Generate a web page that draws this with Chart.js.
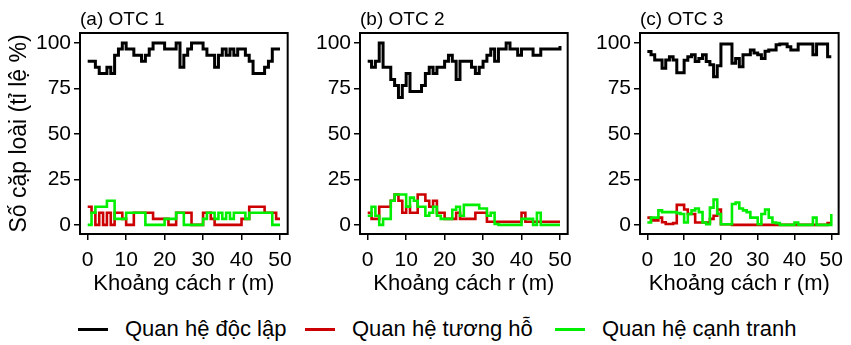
<!DOCTYPE html>
<html>
<head>
<meta charset="utf-8">
<script src="https://cdn.jsdelivr.net/npm/chart.js@4.4.1/dist/chart.umd.min.js"></script>
<style>
  body { margin: 0; background: #fff; width: 851px; height: 345px; position: relative; overflow: hidden;
         font-family: "Liberation Sans", Arial, sans-serif; }
  canvas { position: absolute; top: 0; }
  .item { position: absolute; top: 315px; height: 28px; display: flex; align-items: center; font-size: 22px; color: #000; white-space: nowrap; }
  .swatch { width: 30px; height: 3px; margin-right: 17px; }
</style>
</head>
<body>
<canvas id="otc1" width="300" height="300" style="left:0px"></canvas>
<canvas id="otc2" width="280" height="300" style="left:300px"></canvas>
<canvas id="otc3" width="271" height="300" style="left:580px"></canvas>
<div id="legend"></div>
<script>
document.addEventListener('DOMContentLoaded', function () {
// distance r (m)
const distances = [0,1,2,3,4,5,6,7,8,9,10,11,12,13,14,15,16,17,18,19,20,21,22,23,24,25,26,27,28,29,30,31,32,33,34,35,36,37,38,39,40,41,42,43,44,45,46,47,48,49,50];

// OTC 1
const otc1Independent = [90,90,86.7,83.3,83.3,86.7,83.3,93.3,96.7,100,96.7,96.7,93.3,93.3,90,93.3,96.7,100,100,100,96.7,96.7,96.7,100,86.7,93.3,96.7,100,100,100,96.7,93.3,93.3,86.7,93.3,96.7,93.3,96.7,93.3,96.7,96.7,93.3,90,83.3,83.3,83.3,86.7,90,96.7,96.7,96.7];
const otc1Mutual = [10,6.7,0,6.7,0,6.7,0,6.7,6.7,3.3,0,0,6.7,6.7,6.7,6.7,6.7,3.3,3.3,3.3,3.3,0,0,6.7,6.7,6.7,6.7,0,0,0,6.7,6.7,3.3,0,0,0,0,0,0,0,3.3,3.3,10,10,10,10,6.7,6.7,6.7,3.3,3.3];
const otc1Competitive = [0,6.7,10,10,10,13.3,13.3,3.3,3.3,3.3,6.7,6.7,6.7,6.7,6.7,0,0,0,0,0,3.3,3.3,3.3,6.7,6.7,0,0,0,0,0,3.3,6.7,6.7,3.3,6.7,3.3,6.7,3.3,6.7,6.7,6.7,3.3,6.7,6.7,6.7,6.7,6.7,6.7,0,0,0];

// OTC 2
const otc2Independent = [90,86.7,90,100,86.7,86.7,80,76.7,70,76.7,83.3,73.3,73.3,73.3,76.7,83.3,86.7,83.3,86.7,86.7,90,93.3,90,80,90,90,90,86.7,83.3,86.7,90,93.3,96.7,90,96.7,96.7,100,96.7,96.7,93.3,96.7,96.7,96.7,93.3,93.3,96.7,96.7,96.7,96.7,96.7,98.3];
const otc2Mutual = [6.7,3.3,3.3,10,10,10,13.3,16.7,13.3,6.7,10,6.7,6.7,16.7,16.7,13.3,10,13.3,6.7,6.7,3.3,3.3,3.3,6.7,3.3,3.3,3.3,3.3,6.7,6.7,6.7,1.7,1.7,1.7,1.7,1.7,1.7,1.7,1.7,1.7,6.7,1.7,1.7,1.7,1.7,1.7,1.7,1.7,1.7,1.7,1.7];
const otc2Competitive = [5,10,5,0,3.3,3.3,13.3,16.7,16.7,16.7,10,15,13.3,10,10,5,6.7,10,5,3.3,3.3,3.3,8.3,10,5,11,11,11,11,9,9,5,6.7,0.5,0,0,0,0,0,0,3.3,3.3,3.3,0,6.7,0,0,0,0,0,0];

// OTC 3
const otc3Independent = [95.3,93.5,90.7,90.7,86.1,90.7,92.5,90.7,83.7,83.7,90.5,92.5,93.5,89.8,91.5,93.5,89.8,88,81.5,87.5,99.5,99.5,99.5,88.9,91.5,87,93.5,93.5,96.2,94.5,93.5,91.5,95.5,96.2,96.2,99,99.5,99.5,98,96.2,96.2,99.5,99.5,99.5,99.5,93.5,99.5,99.5,99.5,92.5,92.5];
const otc3Mutual = [4,2.5,2.5,4,1.5,0.5,0.5,1,11,11,8.5,6,6,1.3,1.3,1.3,1.3,3.3,5,8.5,0.4,0.4,0.4,0,0,0,0,0,0,0,0,0,0,0,0,0,0,0,0,0,0,0,0,0,0,0,0,0,0,1,1];
const otc3Competitive = [1.3,4,4,8,7,7,7,7,6.5,6,1.3,6,8,9,7,1.3,0.4,9.5,14,6,0.4,0.4,0.4,11.5,12.3,9,8,7,4,4,0.4,6,8.5,4,1.3,1,0,0,0,0,1.3,0,0,0,0,4,0,0,0,0,6];

const xTicks = [0, 10, 20, 30, 40, 50];
const yTicks = [0, 25, 50, 75, 100];
const seriesNames = ['Quan hệ độc lập', 'Quan hệ tương hỗ', 'Quan hệ cạnh tranh'];
const seriesColors = ['#000000', '#cc0000', '#00ee00'];
const xTitle = 'Khoảng cách r (m)';
const yTitle = 'Số cặp loài (tỉ lệ %)';
const family = '"Liberation Sans", Arial, sans-serif';

// frame around the plot area + panel label like "(a) OTC 1"
const panelFrame = {
    id: 'panelFrame',
    afterDraw(chart, args, opts) {
        const ctx = chart.ctx;
        const a = chart.chartArea;
        ctx.save();
        ctx.strokeStyle = '#000';
        ctx.lineWidth = 2;
        ctx.strokeRect(a.left, a.top, a.right - a.left, a.bottom - a.top);
        ctx.fillStyle = '#000';
        ctx.font = '19px ' + family;
        ctx.textBaseline = 'alphabetic';
        ctx.textAlign = 'left';
        ctx.fillText(opts.text, a.left, 25);
        ctx.restore();
    }
};

function pairs(values) {
    return distances.map((r, i) => ({ x: r, y: values[i] }));
}

function makePanel(id, label, independent, mutual, competitive, yWidth, padRight, showYTitle) {
    const ctx = document.getElementById(id).getContext('2d');
    const all = [independent, mutual, competitive];
    const order = [3, 2, 1];
    return new Chart(ctx, {
        type: 'line',
        data: {
            datasets: all.map((vals, i) => ({
                label: seriesNames[i],
                data: pairs(vals),
                borderColor: seriesColors[i],
                borderWidth: i === 0 ? 3 : 2.6,
                stepped: true,
                pointRadius: 0,
                fill: false,
                order: order[i]
            }))
        },
        options: {
            responsive: false,
            animation: false,
            layout: { padding: { top: 33, right: padRight, bottom: 3, left: 0 } },
            plugins: {
                legend: { display: false },
                tooltip: { enabled: false },
                panelFrame: { text: label }
            },
            scales: {
                x: {
                    type: 'linear',
                    min: -2,
                    max: 52,
                    afterBuildTicks: s => { s.ticks = xTicks.map(v => ({ value: v })); },
                    afterFit: s => { s.height = 63; },
                    grid: { drawOnChartArea: false, tickLength: 6, color: '#000', lineWidth: 1.5 },
                    border: { display: false },
                    ticks: { color: '#000', font: { size: 21, family: family }, padding: 8, maxRotation: 0, autoSkip: false },
                    title: { display: true, text: xTitle, color: '#000', font: { size: 22, family: family }, padding: 0 }
                },
                y: {
                    type: 'linear',
                    min: -5,
                    max: 105.5,
                    afterBuildTicks: s => { s.ticks = yTicks.map(v => ({ value: v })); },
                    afterFit: s => { s.width = yWidth; },
                    grid: { drawOnChartArea: false, tickLength: 6, color: '#000', lineWidth: 1.5 },
                    border: { display: false },
                    ticks: { color: '#000', font: { size: 21, family: family }, padding: 3, autoSkip: false },
                    title: { display: showYTitle, text: yTitle, color: '#000', font: { size: 23, family: family }, padding: { top: 6, bottom: 0 } }
                }
            }
        },
        plugins: [panelFrame]
    });
}

makePanel('otc1', '(a) OTC 1', otc1Independent, otc1Mutual, otc1Competitive, 80, 9, true);
makePanel('otc2', '(b) OTC 2', otc2Independent, otc2Mutual, otc2Competitive, 60, 9, false);
makePanel('otc3', '(c) OTC 3', otc3Independent, otc3Mutual, otc3Competitive, 60, 1, false);

// legend under the panels
const legendX = [78, 305, 555];
const legend = document.getElementById('legend');
seriesNames.forEach((name, i) => {
    const item = document.createElement('div');
    item.className = 'item';
    item.style.left = legendX[i] + 'px';
    const sw = document.createElement('span');
    sw.className = 'swatch';
    sw.style.background = seriesColors[i];
    item.appendChild(sw);
    item.appendChild(document.createTextNode(name));
    legend.appendChild(item);
});
});
</script>
</body>
</html>
